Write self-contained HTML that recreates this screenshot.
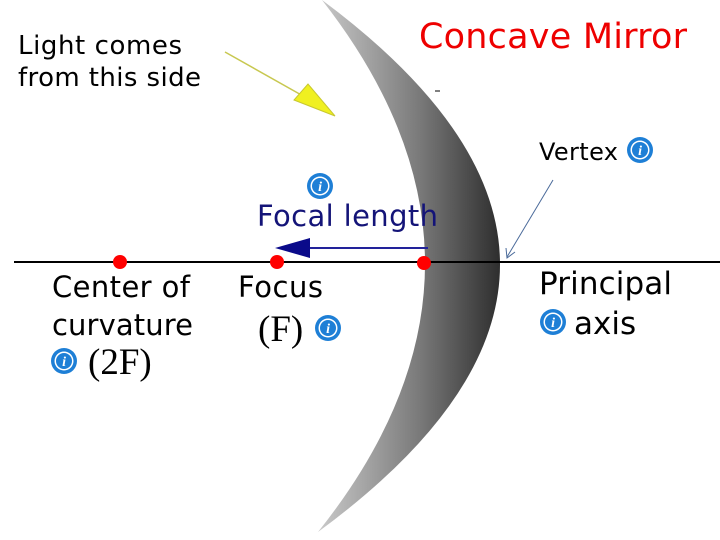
<!DOCTYPE html>
<html><head><style>
body{margin:0;width:720px;height:540px;background:#fff;overflow:hidden}
svg{display:block}
.s{font-family:"DejaVu Sans","Liberation Sans",sans-serif}
.r{font-family:"Liberation Serif","DejaVu Serif",serif}
</style></head><body>
<svg width="720" height="540" viewBox="0 0 720 540">
<defs>
<linearGradient id="g" x1="320" y1="0" x2="500" y2="0" gradientUnits="userSpaceOnUse">
<stop offset="0" stop-color="#c8c8c8"/><stop offset="0.55" stop-color="#7a7a7a"/><stop offset="1" stop-color="#2e2e2e"/>
</linearGradient>
<g id="info"><circle r="13" fill="#1e7fd6"/><circle r="9.5" fill="#fff"/><circle r="8" fill="#1e7fd6"/><text x="0" y="5" font-size="14" font-weight="bold" font-style="italic" fill="#fff" text-anchor="middle" class="r">i</text></g>
</defs>
<path d="M322,0 Q530,266 318,532 Q680,266 322,0 Z" fill="url(#g)"/>
<line x1="14" y1="262" x2="720" y2="262" stroke="#000" stroke-width="2"/>
<circle cx="120" cy="262" r="7" fill="#f00"/>
<circle cx="277" cy="262" r="7" fill="#f00"/>
<circle cx="424" cy="263" r="7" fill="#f00"/>
<line x1="428" y1="248" x2="300" y2="248" stroke="#22229a" stroke-width="2"/>
<polygon points="275,248 310,238 310,258" fill="#0a0a8a"/>
<line x1="225" y1="52" x2="312" y2="101" stroke="#c8c850" stroke-width="1.5"/>
<polygon points="335,116 294,100 308,84" fill="#f0f020" stroke="#c8c830"/>
<line x1="553" y1="180" x2="507" y2="257" stroke="#4a6a9a" stroke-width="1"/>
<polyline points="506,248 507,258 515,252" fill="none" stroke="#4a6a9a" stroke-width="1"/>
<line x1="435" y1="91" x2="440" y2="91" stroke="#000" stroke-width="1"/>
<g class="s">
<text x="18" y="54" font-size="26" fill="#000" textLength="164">Light comes</text>
<text x="18" y="86" font-size="26" fill="#000" textLength="183">from this side</text>
<text x="419" y="48" font-size="35" fill="#e00" textLength="268">Concave Mirror</text>
<text x="539" y="160" font-size="24" fill="#000" textLength="79">Vertex</text>
<text x="257" y="226" font-size="29" fill="#141478" textLength="181">Focal length</text>
<text x="52" y="297" font-size="29" fill="#000" textLength="138">Center of</text>
<text x="52" y="335" font-size="29" fill="#000" textLength="141">curvature</text>
<text x="238" y="297" font-size="29" fill="#000" textLength="85">Focus</text>
<text x="539" y="294" font-size="31" fill="#000" textLength="133">Principal</text>
<text x="574" y="334" font-size="31" fill="#000">axis</text>
</g>
<text x="88" y="374" font-size="37" fill="#000" class="r">(2F)</text>
<text x="258" y="341" font-size="37" fill="#000" class="r">(F)</text>
<use href="#info" x="64" y="361"/>
<use href="#info" x="640" y="150"/>
<use href="#info" x="320" y="186"/>
<use href="#info" x="328" y="328"/>
<use href="#info" x="553" y="322"/>
</svg>
</body></html>
